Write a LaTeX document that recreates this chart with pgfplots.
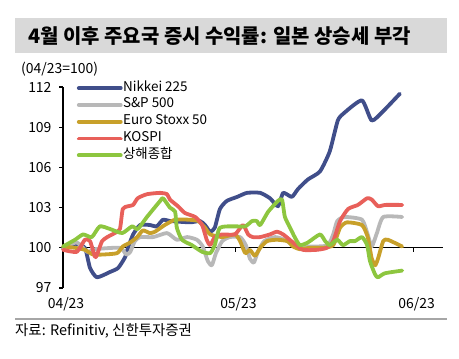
\documentclass[border=0pt]{standalone}
\usepackage{fontspec}
\setmainfont{Noto Sans CJK KR}
\usepackage{pgfplots}
\pgfplotsset{compat=1.18}
\definecolor{cNik}{RGB}{64,78,138}
\definecolor{cSP}{RGB}{184,184,184}
\definecolor{cEU}{RGB}{200,160,42}
\definecolor{cKO}{RGB}{232,96,90}
\definecolor{cSH}{RGB}{141,198,63}
\definecolor{titlebg}{RGB}{217,217,217}
\definecolor{rulegray}{RGB}{166,166,166}
\begin{document}
\begin{tikzpicture}[x=1bp,y=1bp]
\useasboundingbox (0,0) rectangle (459,358);
\fill[titlebg] (15,305) rectangle (447,340);
\node[anchor=west, inner sep=0pt, font=\bfseries\fontsize{20}{22}\selectfont] at (28,322) {4월 이후 주요국 증시 수익률: 일본 상승세 부각};
\node[anchor=west, inner sep=0pt, font=\fontsize{14}{16}\selectfont] at (21,289) {(04/23=100)};
\begin{axis}[
  at={(63bp,70bp)}, anchor=south west, scale only axis,
  width=380bp, height=201bp,
  xmin=0, xmax=66.1, ymin=97, ymax=112,
  axis y line=left, axis x line=bottom,
  x axis line style={draw=none},
  y axis line style={-, line width=1.2bp, black},
  ytick={97,100,103,106,109,112},
  ytick style={black, line width=1.2bp},
  tick align=outside, major tick length=4bp,
  xtick={0,30,61}, xticklabels={04/23,05/23,06/23},
  xtick style={draw=none},
  xticklabel style={xshift=3bp, yshift=-2bp},
  yticklabel style={xshift=-4bp},
  /pgf/number format/assume math mode=true,
  tick label style={font=\fontsize{14}{16}\selectfont},
  legend style={at={(axis description cs:0.036,1.037)}, anchor=north west, draw=none, fill=none,
    inner sep=0pt, font=\fontsize{13.5}{15}\selectfont,
    nodes={inner sep=0.4bp, text height=11bp, text depth=5bp}},
  legend cell align=left,
  legend image code/.code={\draw[#1, line width=3.8bp] (0bp,0bp) -- (42bp,0bp);},
  every axis plot/.append style={line width=3.8bp, line join=round, line cap=round, smooth, tension=0.35},
  clip=false,
]
\draw[black, line width=1.2bp] (axis cs:0,100) -- (axis cs:66.1,100);
\draw[black, line width=1.2bp] (axis cs:30,100) -- ([yshift=-4bp]axis cs:30,100);
\draw[black, line width=1.2bp] (axis cs:61,100) -- ([yshift=-4bp]axis cs:61,100);
\addplot[cNik] coordinates {
(0,100) (2.1,100.3) (3.8,100) (4.7,98.5) (5.9,97.8) (8.2,98.2) (9.6,98.5) (10.8,99.3) (11.3,100)
(12.2,101) (13.4,101.7) (15.1,101.7) (16.3,101.6) (17.4,102.1) (18.6,102) (22.1,101.9) (23.8,102)
(24.7,101.7) (25.6,101.2) (26.4,101.5) (27.3,102.9) (28.5,103.5) (30.3,103.8) (32,104.1) (34.3,104.1)
(36,103.7) (37.4,103.1) (38.3,104.1) (39.8,103.8) (40.9,104.4) (42.6,105.1) (44.7,105.7) (46.4,107.2)
(47.8,109.5) (49,110.1) (52,111) (53.7,109.5) (55.7,110.2) (58.6,111.5)
};
\addlegendentry{Nikkei 225}
\addplot[cSP] coordinates {
(0,100) (2.4,100.4) (4.2,99.7) (5.6,99.9) (9.9,100) (11,99.5) (11.7,99.7) (12.5,100.5) (13.4,100.8)
(15.7,100.8) (18.1,101.1) (19.8,100.6) (21.6,100.8) (23.3,100.6) (24.3,100.1) (25.2,99) (25.9,98.7)
(26.6,99.6) (27.7,100.5) (29,100.8) (30.8,100.8) (31.8,100.2) (32.5,99.2) (33.2,98.9) (33.9,99.7)
(35,100.5) (36.9,100.8) (38.6,100.6) (40.3,100.2) (42.1,100.1) (44.3,100.1) (46.1,100.2) (47,101)
(47.7,102) (49,102.3) (52,102.1) (53,101) (53.7,100.1) (54.6,101.1) (55.7,102.3) (59,102.3)
};
\addlegendentry{S\&P 500}
\addplot[cEU] coordinates {
(0,100.1) (2.1,100) (3.8,99.85) (5.2,99.5) (7,99.5) (9.4,99.6) (10.4,100.1) (11.7,100.4) (12.9,100.8)
(13.9,101.3) (15.1,101.1) (16,101.2) (17.7,101.7) (19.5,102.1) (21.7,102.1) (23.5,102) (24.7,101.5)
(25.6,101) (27.7,100.8) (29.9,101) (30.8,100.5) (31.7,99.6) (32.5,99.85) (33.4,99.4) (34.3,100)
(35.5,100.5) (37.2,100.6) (39,100.5) (40,100.1) (41.2,99.9) (43,100) (45.2,100) (47,100.2) (48.2,101.5)
(49.4,101.9) (52,101.7) (53,100.8) (53.7,99.2) (54.3,98.7) (54.8,99.2) (55.7,100.5) (56.5,100.6) (59,100.1)
};
\addlegendentry{Euro Stoxx 50}
\addplot[cKO] coordinates {
(0,99.85) (2.4,99.7) (3.8,100.6) (4.7,100.5) (5.6,99.3) (6.1,99.7) (6.8,100.5) (7.7,100.8) (9,101.1)
(9.9,101.4) (10.4,102.9) (11.3,103.1) (12.2,103.2) (13,103.7) (14.6,104) (16.9,104.1) (18.1,104)
(18.6,103.6) (20,103.1) (21.2,102.6) (23,102.3) (24.2,101.7) (25,100.6) (25.6,100.2) (26.4,100.8)
(27.7,101) (29.9,101) (31.3,101.7) (32.2,101) (33,100.8) (34.3,100.8) (36,101) (37.2,101.2) (38.3,101)
(40,100.4) (41.7,99.85) (44.2,99.85) (45.9,100) (47,100.5) (48.2,102) (49.6,102.9) (51.3,103.2)
(52.9,103.7) (53.7,103.6) (54.8,103.1) (56,103.2) (59,103.2)
};
\addlegendentry{KOSPI}
\addplot[cSH] coordinates {
(0,100.1) (2.1,100.6) (3.5,101) (5,100.8) (6.4,101.6) (8.2,101.4) (10.3,101.1) (12,101.6) (13,101.4)
(14.6,102.3) (16.9,103.5) (17.4,103.7) (18.6,103) (19.5,102.7) (19.8,101.5) (20.7,100.6) (22.4,100.2)
(24.2,99.7) (25.6,99.6) (26.4,100.2) (27.3,101.5) (29.9,101.6) (31.7,101.6) (32.9,102) (33.7,102)
(34.3,101.7) (35.7,102.7) (37.4,103.5) (38.1,103.6) (38.6,102.3) (39.5,101.5) (40.3,100.8) (41.2,100.2)
(42.6,100.4) (44.7,101) (45.6,100.5) (46.4,100.2) (47.7,100.6) (48.7,100.2) (49.9,100.5) (50.8,100.5)
(52,100.8) (52.9,100.2) (53.4,99) (54.3,98) (54.8,97.8) (56,98.1) (59,98.3)
};
\addlegendentry{상해종합}
\end{axis}
\draw[rulegray, line width=2bp] (15,39) -- (447,39);
\node[anchor=west, inner sep=0pt, font=\fontsize{14.5}{16}\selectfont] at (15,27) {자료: Refinitiv, 신한투자증권};
\end{tikzpicture}
\end{document}
